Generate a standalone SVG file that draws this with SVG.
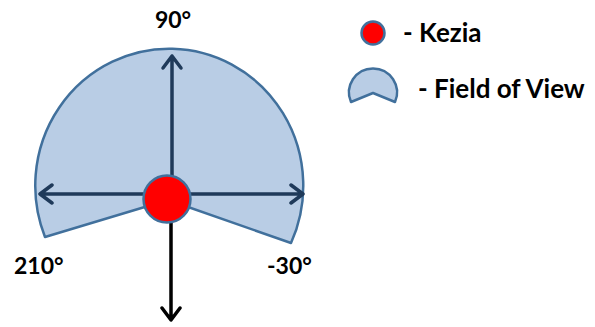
<svg xmlns="http://www.w3.org/2000/svg" width="595" height="327" viewBox="0 0 595 327">
<style>
.lbl{font-family:"Lato","Liberation Sans",sans-serif;font-weight:bold;font-size:23px;fill:#000}
.leg{font-family:"Lato","Liberation Sans",sans-serif;font-weight:bold;font-size:26px;fill:#000}
.fov{fill:#B9CDE5;stroke:#41709C;stroke-width:2.5;stroke-linejoin:round}
.me{fill:#FF0000;stroke:#41709C;stroke-width:2.5}
.ax{stroke:#1F3A5A;stroke-width:3.5;fill:none;stroke-linecap:round;stroke-linejoin:round}
.dn{stroke:#000;stroke-width:3.5;fill:none;stroke-linecap:round;stroke-linejoin:round}
</style>
<rect width="595" height="327" fill="#fff"/>
<g id="field-of-view">
<path class="fov" d="M168 200 L45 237 A134 137 0 1 1 291 243 Z"/>
</g>
<g id="connectors">
<path class="ax" d="M172 194 L172 56 M163 68 L172 56 L181 68"/>
<path class="ax" d="M40 194 L303 194 M52 185 L40 194 L52 203 M291 185 L303 194 L291 203"/>
<path class="dn" d="M171 222 L171 320 M162 308 L171 320 L180 308"/>
</g>
<g id="kezia">
<circle class="me" cx="167" cy="199" r="23.5"/>
</g>
<g id="labels">
<text class="lbl" x="173" y="28" text-anchor="middle">90°</text>
<text class="lbl" x="14" y="274">210°</text>
<text class="lbl" x="267" y="274">-30°</text>
</g>
<g id="legend">
<circle class="me" cx="373" cy="33" r="11.5"/>
<text class="leg" x="403" y="42">- Kezia</text>
<path class="fov" d="M373 93 L351 102 A24 24 0 1 1 395 102 Z"/>
<text class="leg" x="418" y="98">- Field of View</text>
</g>
</svg>
